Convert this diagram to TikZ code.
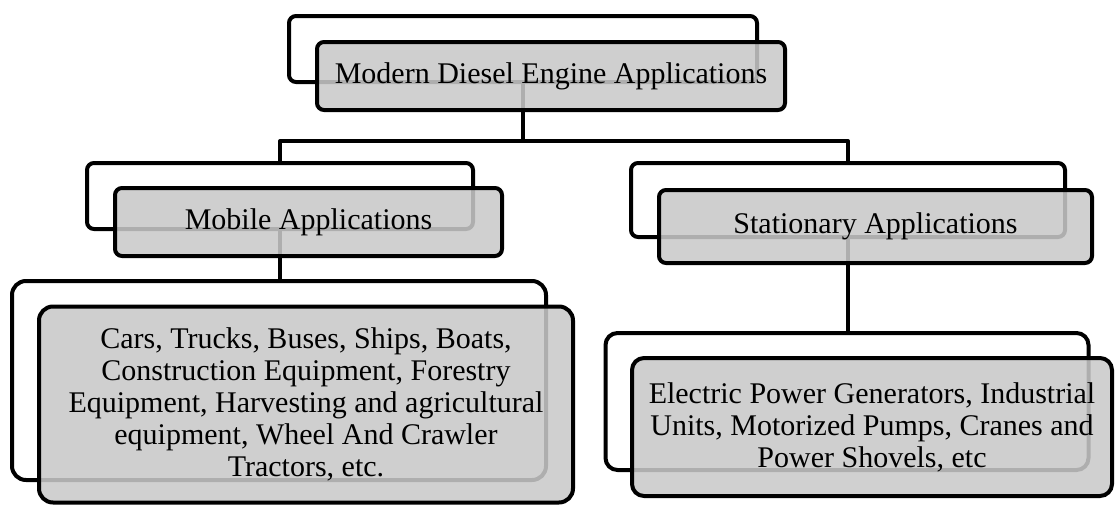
\documentclass[tikz,border=0pt]{standalone}
\usepackage{fontspec}
\setmainfont{Liberation Serif}
\definecolor{frontgray}{rgb}{0.79,0.79,0.79}
\tikzset{
  backbox/.style={draw=black, line width=4pt, fill=white, inner sep=0pt},
  frontbox/.style={draw=black, line width=4pt, fill=frontgray, fill opacity=0.87,
    text opacity=1, inner sep=0pt, align=center,
    font=\fontsize{30}{32}\selectfont},
  conn/.style={draw=black, line width=4pt, line join=round}
}
\begin{document}
\begin{tikzpicture}[x=1pt,y=-1pt]
\useasboundingbox (0,0) rectangle (1119,504);
% back boxes
\node[backbox, rounded corners=7pt, minimum width=468pt, minimum height=66pt] (rootb) at (523,49) {};
\node[backbox, rounded corners=7pt, minimum width=386pt, minimum height=66pt] (mobb) at (280,196) {};
\node[backbox, rounded corners=7pt, minimum width=434pt, minimum height=74pt] (statb) at (848,200) {};
\node[backbox, rounded corners=14pt, minimum width=534pt, minimum height=199pt] (mcb) at (279,380.5) {};
\node[backbox, rounded corners=12pt, minimum width=483pt, minimum height=137pt] (scb) at (847,401.5) {};
% connectors
\coordinate (jn) at (523,141);
\draw[conn] (rootb.south) -- (jn);
\draw[conn] (mobb.north) |- (jn);
\draw[conn] (statb.north) |- (jn);
\draw[conn] (mobb.south) -- (mobb.south |- mcb.north);
\draw[conn] (statb.south) -- (statb.south |- scb.north);
% front boxes
\node[frontbox, rounded corners=7pt, minimum width=468pt, minimum height=68pt] (rootf) at (551,76) {Modern Diesel Engine Applications};
\node[frontbox, rounded corners=7pt, minimum width=387pt, minimum height=68pt] (mobf) at (308.5,222) {Mobile Applications};
\node[frontbox, rounded corners=7pt, minimum width=433pt, minimum height=73pt] (statf) at (875.5,226.5) {Stationary Applications};
\node[frontbox, rounded corners=14pt, minimum width=534pt, minimum height=196pt] (mcf) at (306,404.5) {Cars, Trucks, Buses, Ships, Boats,\\Construction Equipment, Forestry\\Equipment, Harvesting and agricultural\\equipment, Wheel And Crawler\\Tractors, etc.};
\node[frontbox, rounded corners=12pt, minimum width=480pt, minimum height=138pt] (scf) at (872,427) {Electric Power Generators, Industrial\\Units, Motorized Pumps, Cranes and\\Power Shovels, etc};
\end{tikzpicture}
\end{document}
